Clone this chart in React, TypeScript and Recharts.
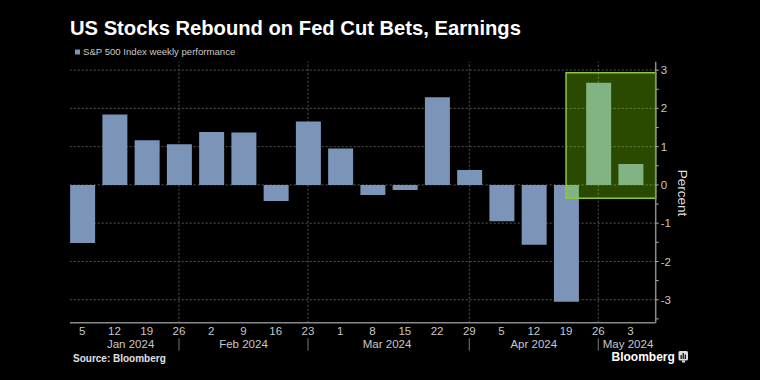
import React from 'react';
import { ComposedChart, Bar, XAxis, YAxis, ReferenceLine, ReferenceArea } from 'recharts';

const weekLabels = ['5', '12', '19', '26', '2', '9', '16', '23', '1', '8', '15', '22', '29', '5', '12', '19', '26', '3'];
const weeklyPerf = [-1.52, 1.84, 1.17, 1.06, 1.38, 1.37, -0.42, 1.66, 0.95, -0.26, -0.13, 2.29, 0.39, -0.95, -1.56, -3.05, 2.67, 0.55];
const monthLabels = ['Jan 2024', 'Feb 2024', 'Mar 2024', 'Apr 2024', 'May 2024'];
const monthCenters = [1.5, 5, 9.45, 14, 16];
const monthEnds = [3, 7, 12, 16];
const yGridValues = [-3, -2, -1, 0, 1, 2, 3];
const yTickValues = [-3.5, -3, -2.5, -2, -1.5, -1, -0.5, 0, 0.5, 1, 1.5, 2, 2.5, 3];
const highlightX1 = 15;
const highlightY = [-0.35, 2.93];
const xDomain = [-0.38, 17.78];
const yDomain = [-3.6, 3.22];

const title = 'US Stocks Rebound on Fed Cut Bets, Earnings';
const legendLabel = 'S&P 500 Index weekly performance';
const sourceLabel = 'Source: Bloomberg';
const yAxisLabel = 'Percent';

const data = weekLabels.map((w, i) => ({ i, week: w, value: weeklyPerf[i] }));
const xTicks = Array.from(new Set([...data.map((d) => d.i), ...monthCenters])).sort((a, b) => a - b);

const FONT = '"Liberation Sans", Arial, sans-serif';
const BAR = '#7d94b9';
const TICK = '#c8c8c8';

const DateTick = (props: any) => {
  const { x, y, payload } = props;
  const v = payload.value;
  const isWeek = Number.isInteger(v);
  const li = monthCenters.indexOf(v);
  const isEnd = monthEnds.includes(v);
  const last = li === monthLabels.length - 1;
  return (
    <g>
      {isWeek && (
        <text x={x} y={y + 8.3} textAnchor="middle" fill={TICK} fontSize={11.5} fontFamily={FONT}>
          {weekLabels[v]}
        </text>
      )}
      {isEnd && <line x1={x} x2={x} y1={y + 11.5} y2={y + 24} stroke="#777" strokeWidth={1} />}
      {li >= 0 && (
        <text
          x={last ? x + 4.5 : x}
          y={y + 21.3}
          textAnchor={last ? 'start' : 'middle'}
          fill={TICK}
          fontSize={11.5}
          fontFamily={FONT}
        >
          {monthLabels[li]}
        </text>
      )}
    </g>
  );
};

export default function App() {
  return (
    <div style={{ position: 'absolute', left: 0, top: 0, width: 760, height: 380, background: '#000', overflow: 'hidden' }}>
      <ComposedChart
        width={760}
        height={380}
        data={data}
        margin={{ top: 61.7, left: 70, right: 74.3, bottom: 25.3 }}
      >
        <XAxis
          xAxisId="d"
          dataKey="i"
          type="number"
          domain={xDomain}
          allowDataOverflow
          ticks={xTicks}
          interval={0}
          tickLine={false}
          tickSize={0}
          tickMargin={4}
          axisLine={{ stroke: '#8a8a8a', strokeWidth: 1.5 }}
          tick={<DateTick />}
          height={32}
        />
        <YAxis
          orientation="right"
          type="number"
          domain={yDomain}
          allowDataOverflow
          ticks={yTickValues}
          interval={0}
          tickFormatter={(v: number) => (Number.isInteger(v) ? String(v) : '')}
          tickSize={3}
          tickMargin={2}
          tickLine={{ stroke: '#aaa' }}
          axisLine={{ stroke: '#8a8a8a', strokeWidth: 1.5 }}
          tick={{ fill: TICK, fontSize: 11.5, fontFamily: FONT }}
          width={30}
        />
        {yGridValues.map((v) => (
          <ReferenceLine key={'h' + v} xAxisId="d" y={v} stroke="#555" strokeDasharray="2 2" zIndex={-60} />
        ))}
        {monthEnds.map((v) => (
          <ReferenceLine key={'v' + v} xAxisId="d" x={v} stroke="#555" strokeDasharray="2 2" zIndex={-60} />
        ))}
        <Bar xAxisId="d" dataKey="value" fill={BAR} barSize={25} isAnimationActive={false} />
        <ReferenceArea
          xAxisId="d"
          x1={highlightX1}
          x2={xDomain[1]}
          y1={highlightY[0]}
          y2={highlightY[1]}
          fill="#8fff00"
          fillOpacity={0.29}
          stroke="#8dc63f"
          strokeWidth={1.5}
          strokeOpacity={1}
          ifOverflow="visible"
          zIndex={350}
        />
      </ComposedChart>
      <svg width={760} height={380} style={{ position: 'absolute', left: 0, top: 0, pointerEvents: 'none' }}>
        <text x={70} y={35} fill="#fff" fontSize={20.2} fontWeight="bold" fontFamily={FONT}>{title}</text>
        <rect x={75} y={49.5} width={5} height={5} fill={BAR} />
        <text x={83} y={55.3} fill="#c8c8c8" fontSize={9.6} fontFamily={FONT}>{legendLabel}</text>
        <text x={73} y={361.7} fill="#e0e0e0" fontSize={10} fontWeight="bold" fontFamily={FONT}>{sourceLabel}</text>
        <text
          x={682}
          y={193}
          fill="#ddd"
          fontSize={13.5}
          fontFamily={FONT}
          textAnchor="middle"
          dominantBaseline="central"
          transform="rotate(90, 682, 193)"
        >
          {yAxisLabel}
        </text>
        <text x={611.5} y={360.7} fill="#fff" fontSize={12} fontWeight="bold" fontFamily={FONT}>Bloomberg</text>
        <rect x={678.5} y={351} width={9.5} height={9.5} rx={1.5} fill="#ddd" />
        <rect x={680.5} y={355} width={1.2} height={4} fill="#000" />
        <rect x={682.6} y={353} width={1.2} height={6} fill="#000" />
        <rect x={684.7} y={354.5} width={1.2} height={4.5} fill="#000" />
        <rect x={682} y={360.5} width={3} height={2} fill="#ddd" />
      </svg>
    </div>
  );
}
